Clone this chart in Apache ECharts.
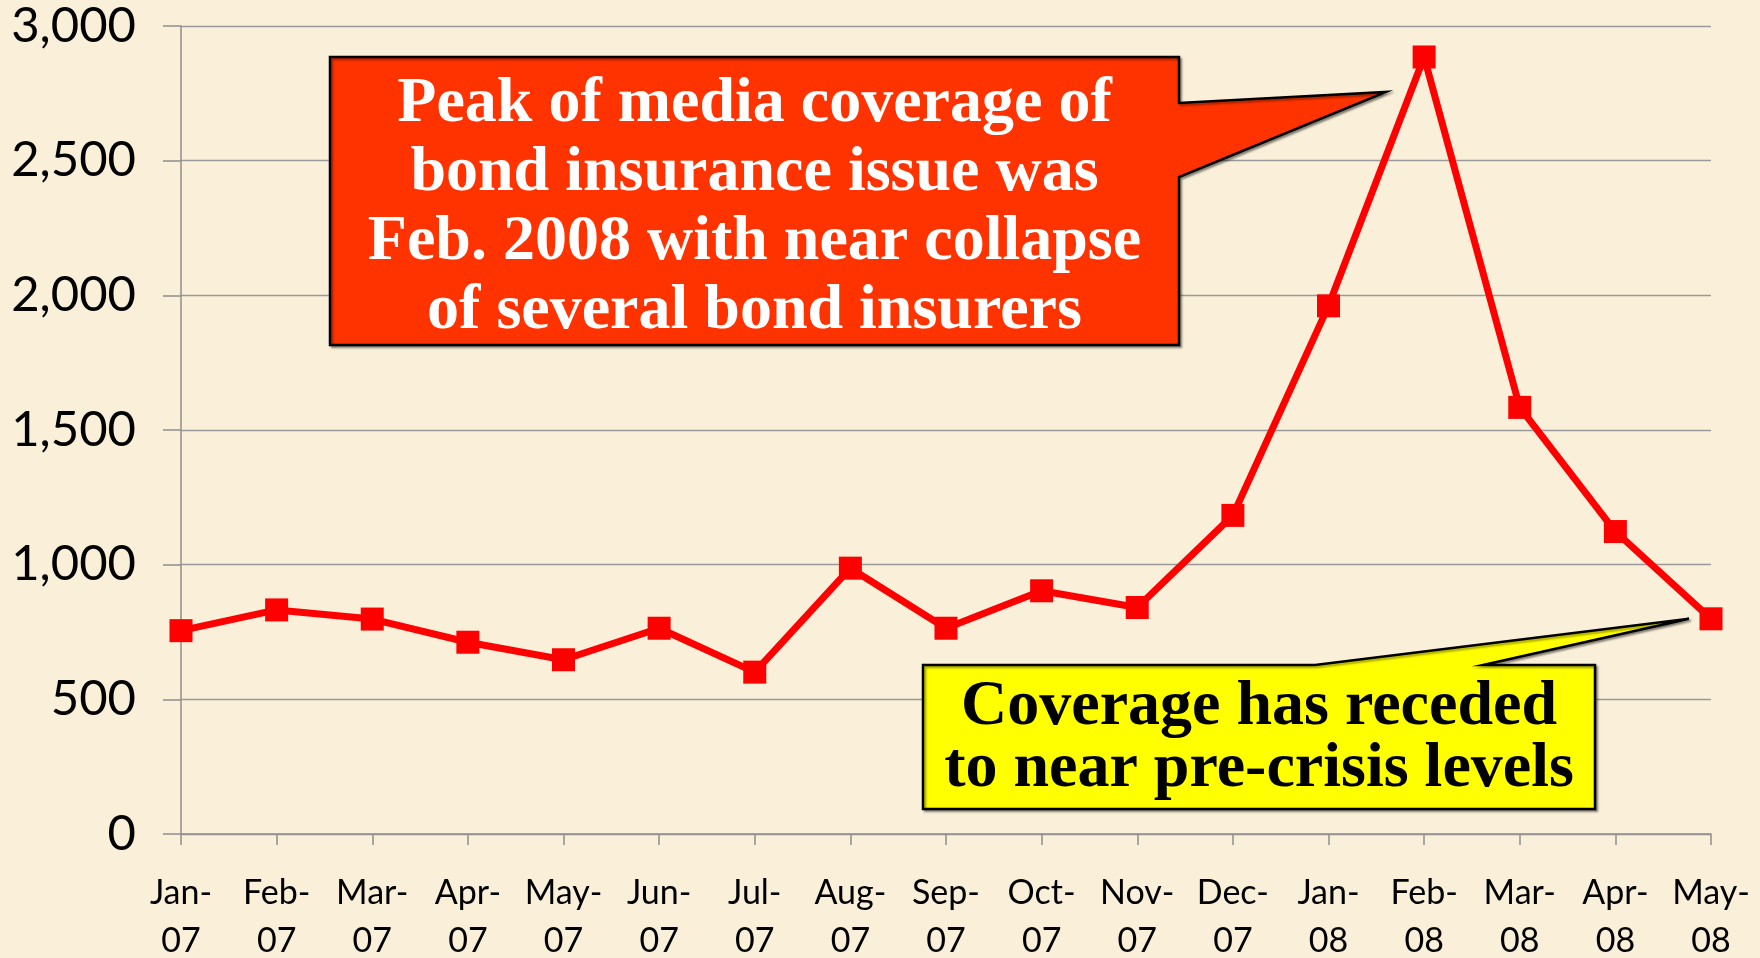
<!DOCTYPE html>
<html>
<head>
<meta charset="utf-8">
<script src="https://cdn.jsdelivr.net/npm/echarts/dist/echarts.min.js"></script>
<style>
  html, body { margin: 0; padding: 0; background: #FAEFD9; }
  #chart { width: 1760px; height: 958px; }
</style>
</head>
<body>
<div id="chart"></div>
<script>
// Monthly count of media stories on the bond insurance issue
const months = ['Jan-\n07', 'Feb-\n07', 'Mar-\n07', 'Apr-\n07', 'May-\n07', 'Jun-\n07', 'Jul-\n07', 'Aug-\n07',
                'Sep-\n07', 'Oct-\n07', 'Nov-\n07', 'Dec-\n07', 'Jan-\n08', 'Feb-\n08', 'Mar-\n08', 'Apr-\n08', 'May-\n08'];
const stories = [755, 832, 798, 712, 647, 764, 601, 987, 764, 903, 841, 1183, 1961, 2885, 1584, 1123, 799];
const yTicks = { min: 0, max: 3000, interval: 500 };

const peakNote = ['Peak of media coverage of', 'bond insurance issue was', 'Feb. 2008 with near collapse', 'of several bond insurers'];
const recedeNote = ['Coverage has receded', 'to near pre-crisis levels'];

const chart = echarts.init(document.getElementById('chart'), null, { renderer: 'canvas' });

const grey = '#8f8f8f';
chart.setOption({
  backgroundColor: '#FAEFD9',
  animation: false,
  grid: { left: 181, right: 49, top: 26, bottom: 124, containLabel: false, outerBoundsMode: 'none' },
  xAxis: {
    type: 'category',
    data: months,
    boundaryGap: false,
    axisLine: { show: true, lineStyle: { color: grey, width: 1.5 } },
    axisTick: { show: true, length: 11, lineStyle: { color: grey, width: 1.5 } },
    axisLabel: {
      interval: 0, margin: 35, color: '#000',
      fontFamily: 'Lato', fontSize: 34, lineHeight: 48
    },
    splitLine: { show: false }
  },
  yAxis: {
    type: 'value',
    min: yTicks.min, max: yTicks.max, interval: yTicks.interval,
    axisLine: { show: true, lineStyle: { color: grey, width: 1.5 } },
    axisTick: { show: true, length: 18, lineStyle: { color: grey, width: 1.5 } },
    axisLabel: {
      margin: 45, color: '#000', fontFamily: 'Lato', fontSize: 49,
      formatter: v => v.toLocaleString('en-US')
    },
    splitLine: { show: true, lineStyle: { color: '#9a9a9a', width: 1.3 } }
  },
  series: [{
    type: 'line',
    data: stories,
    symbol: 'rect',
    symbolSize: 23,
    lineStyle: { color: '#FF0000', width: 7 },
    itemStyle: { color: '#FF0000' },
    z: 3
  }]
});

// Callout boxes with pointers aimed at the peak and the latest month
function callout(box, base, tip, fill, lines, textColor, lineGap, textShift) {
  const [x0, y0, x1, y1] = box;
  let pts;
  if (base.side === 'right') {
    pts = [[x0, y0], [x1, y0], [x1, base.a], tip, [x1, base.b], [x1, y1], [x0, y1]];
  } else {
    pts = [[x0, y0], [base.a, y0], tip, [base.b, y0], [x1, y0], [x1, y1], [x0, y1]];
  }
  const cx = (x0 + x1) / 2, cy = (y0 + y1) / 2 + textShift;
  const n = lines.length;
  const texts = lines.map((t, i) => ({
    type: 'text',
    z: 11,
    style: {
      text: t, x: cx, y: cy + (i - (n - 1) / 2) * lineGap,
      align: 'center', verticalAlign: 'middle',
      fill: textColor, font: 'bold 64px "Liberation Serif", "Times New Roman", serif'
    }
  }));
  return [{
    type: 'polygon', z: 10,
    shape: { points: pts },
    style: { fill: fill, stroke: '#000', lineWidth: 2.5, lineJoin: 'miter',
             shadowColor: 'rgba(0,0,0,0.35)', shadowOffsetX: 2, shadowOffsetY: 2, shadowBlur: 2 }
  }].concat(texts);
}

const peakIdx = stories.indexOf(Math.max(...stories));
const peakPt = chart.convertToPixel({ gridIndex: 0 }, [peakIdx, stories[peakIdx]]);
const lastIdx = stories.length - 1;
const lastPt = chart.convertToPixel({ gridIndex: 0 }, [lastIdx, stories[lastIdx]]);

chart.setOption({
  graphic: [].concat(
    callout([330, 57, 1179, 345], { side: 'right', a: 103, b: 177 },
            [peakPt[0] - 38, peakPt[1] + 35], '#FF3300', peakNote, '#FFFFFF', 69, 7),
    callout([923, 665, 1595, 809], { side: 'top', a: 1315, b: 1483 },
            [lastPt[0] - 22, lastPt[1]], '#FFFF00', recedeNote, '#000000', 62, 1)
  )
});
</script>
</body>
</html>
